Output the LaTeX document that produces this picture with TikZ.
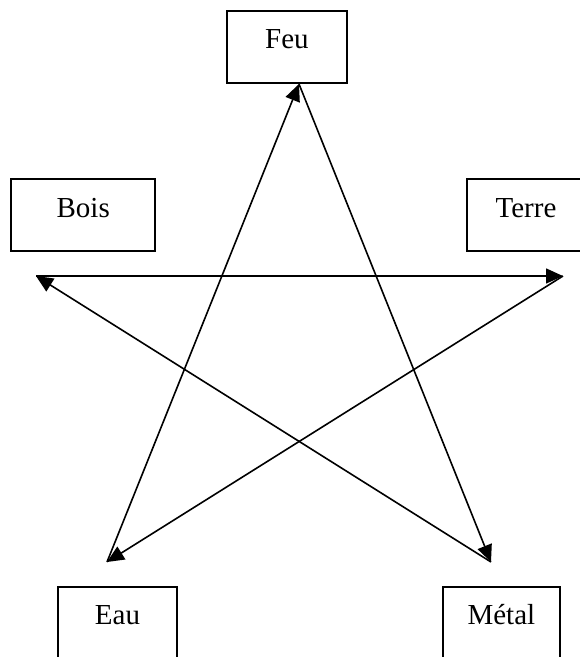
\documentclass[tikz,border=0pt]{standalone}
\usepackage{fontspec}
\setmainfont{Liberation Serif}
\usetikzlibrary{arrows.meta}

\tikzset{
  boite/.style={draw, line width=1.9pt, rectangle, inner xsep=0pt, inner ysep=0pt,
    text height=38pt, text depth=34pt, minimum height=72pt},
  fleche/.style={-{Triangle[length=17pt,width=15pt]}, line width=1.6pt}
}

\begin{document}
\begin{tikzpicture}[x=1pt, y=-1pt, font=\fontsize{29}{34}\selectfont]
    % Cadre
        \path[use as bounding box, fill=white] (0,0) rectangle (580,657);
        \clip (0,0) rectangle (580,657);
    % Boites
        \node[boite, minimum width=120.3pt] (feu) at (286.9,46.7) {Feu};
        \node[boite, minimum width=144.3pt] (bois) at (83.2,215) {Bois};
        \node[boite, minimum width=118.6pt] (terre) at (526,215) {Terre};
        \node[boite, minimum width=118.4pt] (eau) at (117.5,622.7) {Eau};
        \node[boite, minimum width=117.3pt] (metal) at (501.4,622.7) {Métal};
    % Sommets de l'etoile
        \coordinate (feuPt) at (299,84);
        \coordinate (metalPt) at (491,562);
        \coordinate (boisPt) at (36,276);
        \coordinate (terrePt) at (563,276);
        \coordinate (eauPt) at (107,562);
    % Etoile
        \draw[fleche] (eauPt) -- (feuPt); % Eau -> Feu
        \draw[fleche] (feuPt) -- (metalPt); % Feu -> Metal
        \draw[fleche] (metalPt) -- (boisPt); % Metal -> Bois
        \draw[fleche] (boisPt) -- (terrePt); % Bois -> Terre
        \draw[fleche] (terrePt) -- (eauPt); % Terre -> Eau
\end{tikzpicture}
\end{document}
